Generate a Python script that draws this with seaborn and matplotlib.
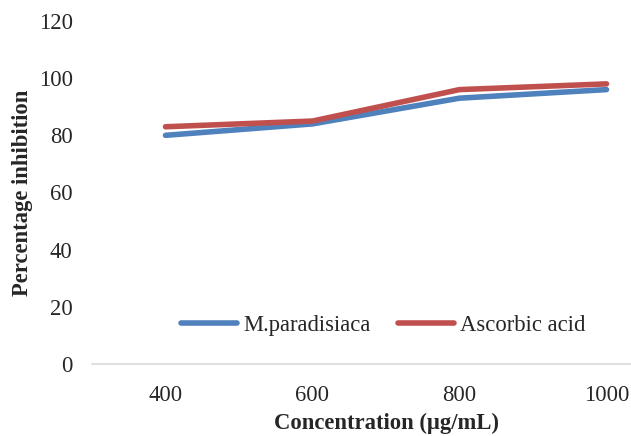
import matplotlib
matplotlib.use("Agg")
import matplotlib.pyplot as plt
import seaborn as sns
import pandas as pd

concentrations = ["400", "600", "800", "1000"]
m_paradisiaca = [80, 84, 93, 96]
ascorbic_acid = [83, 85, 96, 98]
series_names = ["M.paradisiaca", "Ascorbic acid"]
yticks = [0, 20, 40, 60, 80, 100, 120]

df = pd.DataFrame({
    "Concentration": concentrations * 2,
    "Value": m_paradisiaca + ascorbic_acid,
    "Series": [series_names[0]] * 4 + [series_names[1]] * 4,
})

sns.set_theme(style="white")
plt.rcParams["font.family"] = ["Liberation Serif", "DejaVu Serif"]

FS = 16.3
W, H = 631, 436
fig = plt.figure(figsize=(W / 100, H / 100), dpi=100)
ax = fig.add_axes([92 / W, (H - 364) / H, 588 / W, 343 / H])

sns.lineplot(data=df, x="Concentration", y="Value", hue="Series",
             palette=["#4F81BD", "#C0504D"], linewidth=4, ax=ax,
             sort=False, legend=True, solid_capstyle="round")

ax.set_xlim(-0.5, 3.5)
ax.set_ylim(0, 120)
ax.set_yticks(yticks)
ax.set_yticklabels([str(v) for v in yticks], fontsize=FS)
ax.tick_params(axis="x", labelsize=FS, length=0, pad=15)
ax.tick_params(axis="y", length=0, pad=14)
for s in ["top", "right", "left"]:
    ax.spines[s].set_visible(False)
ax.spines["bottom"].set_color("#d9d9d9")
ax.spines["bottom"].set_linewidth(1.2)
ax.grid(False)

ax.set_xlabel("")
ax.set_ylabel("")
fig.text(386 / W, 1 - 423 / H, "Concentration (µg/mL)", ha="center", va="center",
         fontsize=FS, fontweight="bold")
fig.text(23 / W, 1 - 193 / H, "Percentage inhibition", ha="center", va="center",
         rotation=90, fontsize=FS, fontweight="bold")

handles, labels = ax.get_legend_handles_labels()
ax.legend(handles, labels, loc="center", bbox_to_anchor=(383 / W, 1 - 325 / H),
          bbox_transform=fig.transFigure, ncol=2, frameon=False, fontsize=FS,
          handlelength=2.5, columnspacing=1.2, handletextpad=0.25)

fig.savefig("out.png", dpi=100)
